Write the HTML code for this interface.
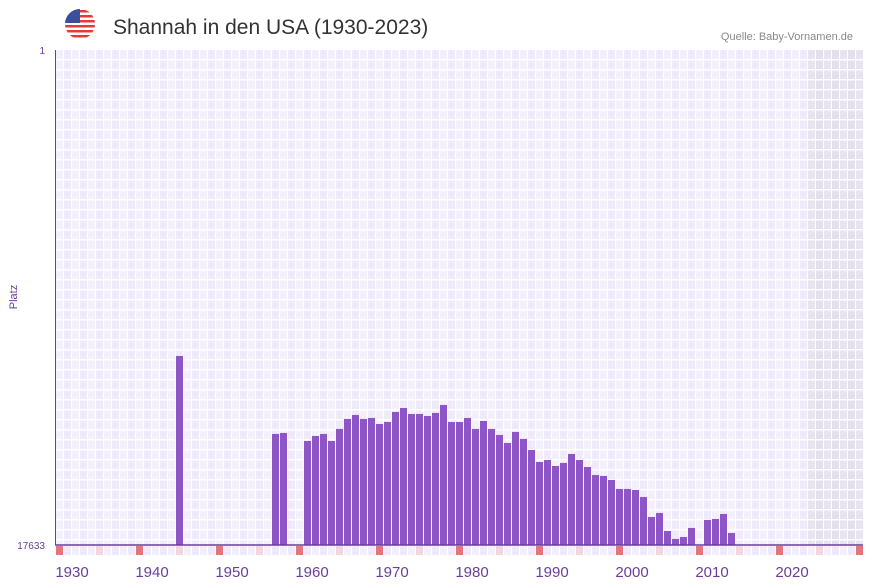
<!DOCTYPE html>
<html><head><meta charset="utf-8"><style>
body{margin:0;background:#fff;font-family:"Liberation Sans",sans-serif;}
svg{display:block}
</style></head><body>
<svg id="c" width="873" height="587" xmlns="http://www.w3.org/2000/svg">
<defs><clipPath id="fc"><circle cx="80" cy="24" r="15"/></clipPath></defs>
<g clip-path="url(#fc)">
<rect x="65" y="9" width="30" height="30" fill="#fff"/>
<rect x="65" y="10" width="30" height="2.5" fill="#e63a3a"/>
<rect x="65" y="15" width="30" height="2.5" fill="#e63a3a"/>
<rect x="65" y="20" width="30" height="2.5" fill="#e63a3a"/>
<rect x="65" y="25" width="30" height="2.5" fill="#e63a3a"/>
<rect x="65" y="30" width="30" height="2.5" fill="#e63a3a"/>
<rect x="65" y="35" width="30" height="2.5" fill="#e63a3a"/>
<rect x="65" y="9" width="15" height="14" fill="#3b4f9a"/>
</g>
<text x="113" y="34" font-size="21" fill="#333" font-family="Liberation Sans, sans-serif">Shannah in den USA (1930-2023)</text>
<text x="853" y="40" font-size="11" fill="#888" text-anchor="end">Quelle: Baby-Vornamen.de</text>
<text x="45" y="54" font-size="10" fill="#6a3d9a" text-anchor="end">1</text>
<text x="45" y="549" font-size="10" fill="#6a3d9a" text-anchor="end">17633</text>
<text x="17" y="297" font-size="11" fill="#6a3d9a" text-anchor="middle" transform="rotate(-90 17 297)">Platz</text>
<g id="grid"></g><g id="bars"></g><g id="strip"></g><g id="xl"></g>
<line x1="55.5" y1="50" x2="55.5" y2="545" stroke="#6a3d9a" stroke-width="1"/>
<line x1="55" y1="545" x2="863" y2="545" stroke="#6a3d9a" stroke-width="1.5"/>
</svg>
<script>
const years=[1943,1955,1956,1959,1960,1961,1962,1963,1964,1965,1966,1967,1968,1969,1970,1971,1972,1973,1974,1975,1976,1977,1978,1979,1980,1981,1982,1983,1984,1985,1986,1987,1988,1989,1990,1991,1992,1993,1994,1995,1996,1997,1998,1999,2000,2001,2002,2003,2004,2005,2006,2007,2009,2010,2011,2012];
const ranks=[10900,13678,13642,13927,13749,13678,13927,13500,13144,13001,13144,13108,13322,13251,12894,12752,12966,12966,13037,12930,12645,13251,13251,13108,13500,13215,13500,13714,13999,13607,13856,14248,14675,14604,14818,14711,14390,14604,14854,15139,15174,15317,15637,15637,15673,15922,16635,16492,17133,17418,17347,17026,16741,16706,16528,17205];
const xTicks=[1930,1940,1950,1960,1970,1980,1990,2000,2010,2020];
const firstYear=1928,lastYear=2028,maxRank=17633;
const NS="http://www.w3.org/2000/svg";
const X0=55,SW=8,Y0=50,Y1=545;
const xs=y=>X0+(y-firstYear)*SW;
const ys=r=>Y0+(r-1)/(maxRank-1)*(Y1-Y0);
function mk(tag,a,p){const e=document.createElementNS(NS,tag);for(const k in a)e.setAttribute(k,a[k]);p.appendChild(e);return e;}
const grid=document.getElementById('grid');
for(let y=firstYear;y<=lastYear;y++){
  const shade=y>=2022;
  const col=shade?((y%2)?'#e3dfec':'#e7e3ef'):((y%2)?'#efeaf9':'#f3f0fb');
  const r=mk('rect',{x:xs(y)+1,y:Y0,width:SW-1,height:Y1-Y0,fill:col},grid);
  
  
}
for(let yy=Y0+9;yy<Y1;yy+=10){
  const l=mk('rect',{x:X0,y:yy,width:808,height:1.5,fill:'#fff'},grid);
  
  
}
const bars=document.getElementById('bars');
years.forEach((y,i)=>{
  const t=ys(ranks[i]);
  const b=mk('rect',{x:xs(y)+1,y:t,width:SW-1,height:Y1-t,fill:'#8e55c7'},bars);
  
  
});
const strip=document.getElementById('strip');
for(let y=firstYear;y<=lastYear;y++){
  let c=(y%2)?'#efeaf9':'#f3f0fb';
  if(y%10===8)c='#e8737b';else if(y%10===3)c='#f4d6e0';
  const s=mk('rect',{x:xs(y)+1,y:546,width:SW-1,height:9,fill:c},strip);
  
  
}
const xl=document.getElementById('xl');
xTicks.forEach(y=>{
  const t=mk('text',{x:xs(y)+1,y:577,'font-size':15,fill:'#6a3d9a','text-anchor':'middle'},xl);
  t.textContent=y;
  
  
});
</script>
</body></html>
